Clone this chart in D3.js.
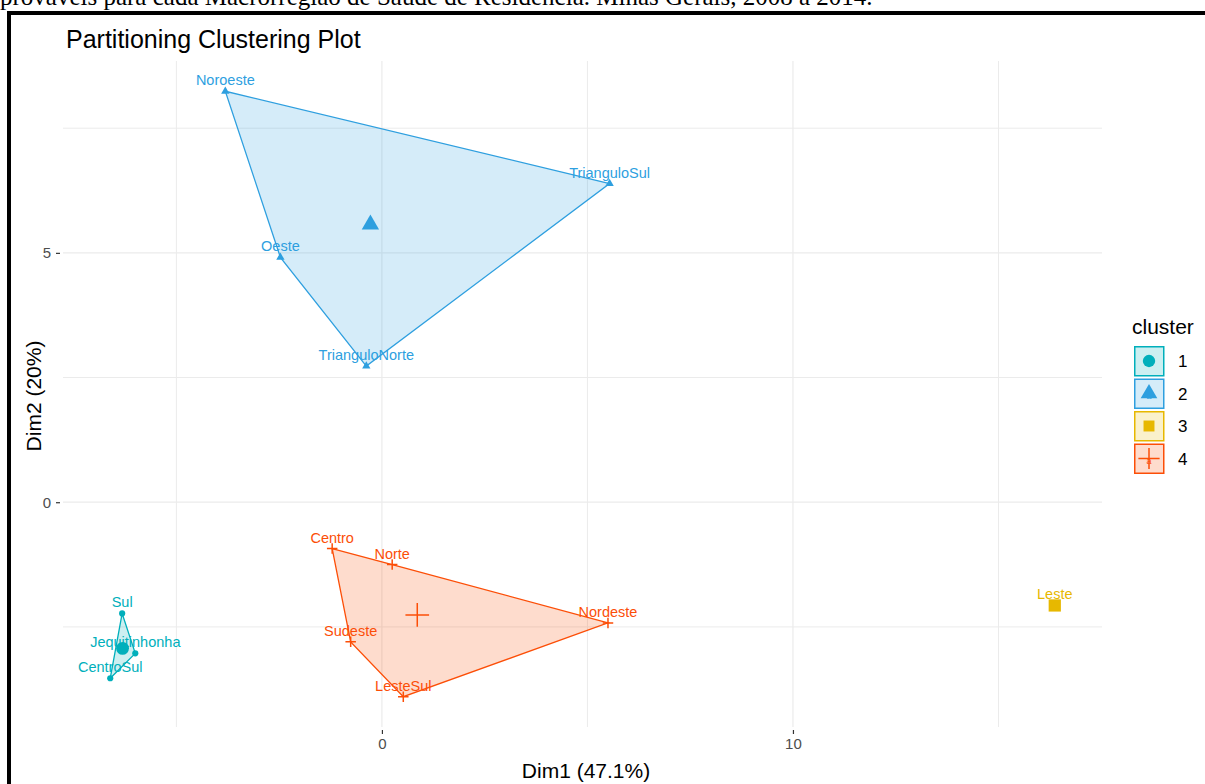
<!DOCTYPE html>
<html>
<head>
<meta charset="utf-8">
<script src="https://cdn.jsdelivr.net/npm/d3@7"></script>
<style>
  body { margin: 0; background: #fff; }
  text { font-family: "Liberation Sans", Arial, sans-serif; }
</style>
</head>
<body>
<svg id="plot" width="1205" height="784"></svg>
<script>
// regions and their coordinates on the first two dimensions
const regions = ["Sul", "Jequitinhonha", "CentroSul",
                 "Noroeste", "TrianguloSul", "Oeste", "TrianguloNorte",
                 "Leste",
                 "Centro", "Norte", "Nordeste", "Sudeste", "LesteSul"];
const dim1 = [-6.32, -6.00, -6.61,
              -3.81, 5.54, -2.47, -0.38,
              16.37,
              -1.21, 0.25, 5.50, -0.76, 0.52];
const dim2 = [-2.23, -3.03, -3.53,
              8.24, 6.39, 4.91, 2.73,
              -2.07,
              -0.93, -1.25, -2.42, -2.80, -3.90];
const clusterOf = [1, 1, 1, 2, 2, 2, 2, 3, 4, 4, 4, 4, 4];

const clusters = [1, 2, 3, 4];
const clusterColors = ["#00AFBB", "#2E9FDF", "#E7B800", "#FC4E07"];

const xTicks = [0, 10];
const yTicks = [0, 5];
const xMinor = [-5, 5, 15];
const yMinor = [-2.5, 2.5, 7.5];

const data = regions.map((r, i) => ({ name: r, x: dim1[i], y: dim2[i], cluster: clusterOf[i] }));

const svg = d3.select("#plot");
const margin = { top: 61, right: 103, bottom: 57, left: 63 };
const width = 1205, height = 784;

// caption line cut off at the top of the page
svg.append("text")
    .attr("x", 0)
    .attr("y", 5)
    .style("font-family", "'Liberation Serif', 'Times New Roman', serif")
    .attr("font-size", "25px")
    .attr("fill", "#000")
    .text("prováveis para cada Macrorregião de Saúde de Residência. Minas Gerais, 2008 a 2014.");

// black frame around the figure
svg.append("rect")
    .attr("x", 9).attr("y", 13)
    .attr("width", 1210).attr("height", 800)
    .attr("fill", "none")
    .attr("stroke", "#000")
    .attr("stroke-width", 4);

// scales with ggplot style 5% expansion
const xExt = d3.extent(dim1), yExt = d3.extent(dim2);
const xPad = (xExt[1] - xExt[0]) * 0.05, yPad = (yExt[1] - yExt[0]) * 0.05;

const x = d3.scaleLinear()
    .domain([xExt[0] - xPad, xExt[1] + xPad])
    .range([margin.left, width - margin.right]);

const y = d3.scaleLinear()
    .domain([yExt[0] - yPad, yExt[1] + yPad])
    .range([height - margin.bottom, margin.top]);

const color = d3.scaleOrdinal().domain(clusters).range(clusterColors);

// grid
const grid = svg.append("g");
grid.selectAll("line.vminor").data(xMinor).enter().append("line")
    .attr("x1", d => x(d)).attr("x2", d => x(d))
    .attr("y1", margin.top).attr("y2", height - margin.bottom)
    .attr("stroke", "#EBEBEB").attr("stroke-width", 1);
grid.selectAll("line.hminor").data(yMinor).enter().append("line")
    .attr("x1", margin.left).attr("x2", width - margin.right)
    .attr("y1", d => y(d)).attr("y2", d => y(d))
    .attr("stroke", "#EBEBEB").attr("stroke-width", 1);
grid.selectAll("line.vmajor").data(xTicks).enter().append("line")
    .attr("x1", d => x(d)).attr("x2", d => x(d))
    .attr("y1", margin.top).attr("y2", height - margin.bottom)
    .attr("stroke", "#EBEBEB").attr("stroke-width", 1.2);
grid.selectAll("line.hmajor").data(yTicks).enter().append("line")
    .attr("x1", margin.left).attr("x2", width - margin.right)
    .attr("y1", d => y(d)).attr("y2", d => y(d))
    .attr("stroke", "#EBEBEB").attr("stroke-width", 1.2);

// axes
const xAxis = svg.append("g")
    .attr("transform", `translate(0,${height - margin.bottom + 3})`)
    .call(d3.axisBottom(x).tickValues(xTicks).tickSize(4).tickPadding(4));
const yAxis = svg.append("g")
    .attr("transform", `translate(${margin.left - 3},0)`)
    .call(d3.axisLeft(y).tickValues(yTicks).tickSize(4).tickPadding(5));
[xAxis, yAxis].forEach(a => {
    a.attr("font-size", null);
    a.select(".domain").remove();
    a.selectAll(".tick line").attr("stroke", "#333").attr("stroke-width", 1.2);
    a.selectAll(".tick text").attr("fill", "#4D4D4D")
        .style("font-size", "15px")
        .style("font-family", "'Liberation Sans', Arial, sans-serif");
});

// plus shape like ggplot shape 3
const symbolPlus = {
    draw(context, size) {
        const r = Math.sqrt(size) / 2;
        context.moveTo(-r, 0); context.lineTo(r, 0);
        context.moveTo(0, -r); context.lineTo(0, r);
    }
};
const shapes = { 1: d3.symbolCircle, 2: d3.symbolTriangle, 3: d3.symbolSquare, 4: symbolPlus };
const smallSize = { 1: 30, 2: 30, 3: 30, 4: 110 };
const bigSize = { 1: 130, 2: 130, 3: 150, 4: 560 };

function drawSymbol(sel, c, size) {
    sel.attr("d", d3.symbol().type(shapes[c]).size(size)())
        .attr("fill", c === 4 ? "none" : color(c))
        .attr("stroke", color(c))
        .attr("stroke-width", c === 4 ? 1.5 : 0);
}

// convex hulls
clusters.forEach(c => {
    const pts = data.filter(d => d.cluster === c).map(d => [x(d.x), y(d.y)]);
    const hull = d3.polygonHull(pts);
    if (!hull) return;
    svg.append("path")
        .attr("d", "M" + hull.join("L") + "Z")
        .attr("fill", color(c))
        .attr("fill-opacity", 0.2)
        .attr("stroke", color(c))
        .attr("stroke-width", 1.3);
});

// points
svg.append("g").selectAll("path")
    .data(data).enter().append("path")
    .attr("transform", d => `translate(${x(d.x)},${y(d.y)})`)
    .each(function (d) { drawSymbol(d3.select(this), d.cluster, smallSize[d.cluster]); });

// labels
svg.append("g").selectAll("text")
    .data(data).enter().append("text")
    .attr("x", d => x(d.x))
    .attr("y", d => y(d.y) - 6)
    .attr("text-anchor", "middle")
    .attr("font-size", "14.5px")
    .attr("fill", d => color(d.cluster))
    .text(d => d.name);

// centroids
const centers = clusters.map(c => {
    const members = data.filter(d => d.cluster === c);
    return { cluster: c, x: d3.mean(members, d => d.x), y: d3.mean(members, d => d.y) };
});
svg.append("g").selectAll("path")
    .data(centers).enter().append("path")
    .attr("transform", d => `translate(${x(d.x)},${y(d.y)})`)
    .each(function (d) { drawSymbol(d3.select(this), d.cluster, bigSize[d.cluster]); });

// title
svg.append("text")
    .attr("x", 66).attr("y", 48)
    .attr("font-size", "25px")
    .attr("fill", "#000")
    .text("Partitioning Clustering Plot");

// axis titles
svg.append("text")
    .attr("x", 586)
    .attr("y", 778)
    .attr("text-anchor", "middle")
    .attr("font-size", "21px")
    .text("Dim1 (47.1%)");
svg.append("text")
    .attr("transform", `translate(41,396) rotate(-90)`)
    .attr("text-anchor", "middle")
    .attr("font-size", "21px")
    .text("Dim2 (20%)");

// legend
const legend = svg.append("g").attr("transform", "translate(1134,346)");
legend.append("text")
    .attr("x", -2).attr("y", -12)
    .attr("font-size", "21px")
    .text("cluster");
const keys = legend.selectAll("g.key").data(clusters).enter().append("g")
    .attr("transform", (d, i) => `translate(0,${i * 32.5})`);
keys.append("rect")
    .attr("x", 0.75).attr("y", 0.75)
    .attr("width", 29).attr("height", 29)
    .attr("fill", d => color(d)).attr("fill-opacity", 0.2)
    .attr("stroke", d => color(d)).attr("stroke-width", 1.5);
keys.append("text")
    .attr("x", 15).attr("y", 20)
    .attr("text-anchor", "middle")
    .attr("font-size", "9px")
    .attr("fill", d => color(d))
    .text("a");
keys.append("path")
    .attr("transform", "translate(15,15)")
    .each(function (d) { drawSymbol(d3.select(this), d, d === 4 ? 450 : 120); });
keys.append("text")
    .attr("x", 44).attr("y", 21)
    .attr("font-size", "17px")
    .text(d => d);
</script>
</body>
</html>
